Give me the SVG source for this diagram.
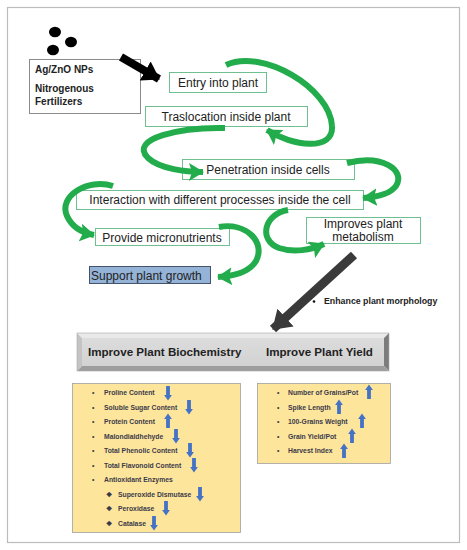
<svg xmlns="http://www.w3.org/2000/svg" width="467" height="550" viewBox="0 0 467 550">
<style>
.frame{fill:#fff;stroke:#bcbcbc;stroke-width:1.2}
.gbox{fill:#fff;stroke:#6fbf90;stroke-width:1}
.t{font-family:"Liberation Sans",Arial,sans-serif;font-size:12px;fill:#222}
.b{font-family:"Liberation Sans",Arial,sans-serif;font-weight:bold;fill:#222}
.li{font-family:"Liberation Sans",Arial,sans-serif;font-weight:bold;font-size:6.8px;fill:#3a3a4a}
.ga{fill:none;stroke:#22ac4c;stroke-width:6;stroke-linecap:butt}
.ybox{fill:#fee59c;stroke:#a0a0a0;stroke-width:0.8}
.blue{fill:#4472c4}
</style>
<defs>
<marker id="gh" markerUnits="userSpaceOnUse" markerWidth="16" markerHeight="18" viewBox="0 0 16 18" refX="14" refY="9" orient="auto">
<path d="M0,0 L15,9 L0,18 L3,9 z" fill="#22ac4c"/>
</marker>
<marker id="kh" markerUnits="userSpaceOnUse" markerWidth="17" markerHeight="22" viewBox="0 0 17 22" refX="16" refY="11" orient="auto">
<path d="M0,0 L17,11 L0,22 z" fill="#000"/>
</marker>
<marker id="dh" markerUnits="userSpaceOnUse" markerWidth="18" markerHeight="24" viewBox="0 0 18 24" refX="17" refY="12" orient="auto">
<path d="M0,0 L18,12 L0,24 z" fill="#3a3a3a"/>
</marker>
<g id="dn"><rect x="-1.9" y="-7" width="3.8" height="9" class="blue"/><path d="M-3.9,2 L3.9,2 L0,7.5 z" class="blue"/></g>
<g id="up"><rect x="-1.9" y="-2" width="3.8" height="9" class="blue"/><path d="M-3.9,-2 L3.9,-2 L0,-7.5 z" class="blue"/></g>
<linearGradient id="face" x1="0" y1="0" x2="0" y2="1"><stop offset="0" stop-color="#dcdcdc"/><stop offset="1" stop-color="#d2d2d2"/></linearGradient>
</defs>

<rect class="frame" x="7.5" y="7.5" width="452" height="535"/>

<g id="particles">
<ellipse cx="55" cy="32" rx="6" ry="5.3" fill="#000"/>
<ellipse cx="71" cy="42" rx="6" ry="5.3" fill="#000"/>
<ellipse cx="53" cy="50" rx="6" ry="5.3" fill="#000"/>
</g>

<g id="source">
<rect x="29.5" y="59.5" width="111" height="54" fill="#fff" stroke="#8a8a8a" stroke-width="1"/>
<text class="b" x="35" y="73" font-size="10">Ag/ZnO NPs</text>
<text class="b" x="35" y="92" font-size="10">Nitrogenous</text>
<text class="b" x="35" y="105" font-size="10">Fertilizers</text>
</g>

<g id="entry">
<rect class="gbox" x="169.5" y="72.5" width="97" height="20"/>
<text class="t" x="218" y="86.5" text-anchor="middle">Entry into plant</text>
</g>
<g id="traslocation">
<rect class="gbox" x="145.5" y="106.5" width="162" height="20"/>
<text class="t" x="226" y="120.5" text-anchor="middle">Traslocation inside plant</text>
</g>
<g id="penetration">
<rect class="gbox" x="182.5" y="159.5" width="172" height="20"/>
<text class="t" x="268" y="173.5" text-anchor="middle">Penetration inside cells</text>
</g>
<g id="interaction">
<rect class="gbox" x="76.5" y="190.5" width="287" height="19"/>
<text class="t" x="220" y="204" text-anchor="middle">Interaction with different processes inside the cell</text>
</g>
<g id="micronutrients">
<rect class="gbox" x="95.5" y="228.5" width="134" height="17"/>
<text class="t" x="162" y="241.5" text-anchor="middle">Provide micronutrients</text>
</g>
<g id="metabolism">
<rect class="gbox" x="306.5" y="217.5" width="114" height="26"/>
<text class="t" x="363" y="227.5" text-anchor="middle" font-size="10.8">Improves plant</text>
<text class="t" x="363" y="240.5" text-anchor="middle" font-size="10.8">metabolism</text>
</g>
<g id="growth">
<rect x="89.5" y="266.5" width="121" height="17" fill="#95b3d7" stroke="#44546a" stroke-width="1"/>
<text class="t" x="91" y="279.5">Support plant growth</text>
</g>

<g id="connectors">
<line x1="121" y1="57" x2="159" y2="79" stroke="#000" stroke-width="8" marker-end="url(#kh)"/>
<path class="ga" d="M226,65 C262,48 330,88 332,126 C334,152 292,146 267,130" marker-end="url(#gh)"/>
<path class="ga" d="M225,128 C182,127 128,138 148,158 C160,169 186,172 203,172" marker-end="url(#gh)"/>
<path class="ga" d="M347,163 C382,154 406,170 396,186 C390,194 379,197 363,198" marker-end="url(#gh)"/>
<path class="ga" d="M113,186 C88,178 58,196 67,216 C72,227 83,233 94,235" marker-end="url(#gh)"/>
<path class="ga" d="M219,227 C246,222 266,242 256,261 C250,271 236,276 218,277" marker-end="url(#gh)"/>
<path class="ga" d="M288,210 C264,214 258,240 279,248 C294,253 311,250 324,244" marker-end="url(#gh)"/>
<line x1="354" y1="255" x2="273" y2="329" stroke="#3a3a3a" stroke-width="9" marker-end="url(#dh)"/>
</g>

<g id="morphology">
<circle cx="314" cy="301.5" r="1.3" fill="#111"/>
<text class="b" x="324" y="304" font-size="8.8">Enhance plant morphology</text>
</g>

<g id="improve">
<polygon points="77,333 389,333 384,338 82,338" fill="#e9e9e9"/>
<polygon points="77,333 82,338 82,366 77,371" fill="#c4c4c4"/>
<polygon points="389,333 389,371 384,366 384,338" fill="#7c7c7c"/>
<polygon points="77,371 389,371 384,366 82,366" fill="#9d9d9d"/>
<rect x="82" y="338" width="302" height="28" fill="url(#face)"/>
<rect x="77" y="333" width="312" height="38" fill="none" stroke="#a8a8a8" stroke-width="0.6"/>
<text class="b" x="88" y="356" font-size="11.6">Improve Plant Biochemistry</text>
<text class="b" x="266" y="356" font-size="11.6">Improve Plant Yield</text>
</g>

<g id="biochemistry">
<rect class="ybox" x="72.5" y="383.5" width="168" height="149"/>
<g class="li">
<text x="92" y="395">•</text><text x="104" y="395">Proline Content</text>
<text x="92" y="409.5">•</text><text x="104" y="409.5">Soluble Sugar Content</text>
<text x="92" y="424">•</text><text x="104" y="424">Protein Content</text>
<text x="92" y="438.5">•</text><text x="104" y="438.5">Malondialdhehyde</text>
<text x="92" y="453">•</text><text x="104" y="453">Total Phenolic Content</text>
<text x="92" y="467.5">•</text><text x="104" y="467.5">Total Flavonoid Content</text>
<text x="92" y="482">•</text><text x="104" y="482">Antioxidant Enzymes</text>
<text x="106" y="496.5">❖</text><text x="118" y="496.5">Superoxide Dismutase</text>
<text x="106" y="511">❖</text><text x="118" y="511">Peroxidase</text>
<text x="106" y="525.5">❖</text><text x="118" y="525.5">Catalase</text>
</g>
<use href="#dn" x="168" y="393"/>
<use href="#dn" x="189" y="407"/>
<use href="#up" x="168" y="421"/>
<use href="#dn" x="176" y="436"/>
<use href="#dn" x="190" y="450"/>
<use href="#dn" x="194" y="465"/>
<use href="#dn" x="200" y="494"/>
<use href="#dn" x="166" y="508"/>
<use href="#dn" x="154" y="523"/>
</g>

<g id="yield">
<rect class="ybox" x="257.5" y="383.5" width="133" height="80"/>
<g class="li">
<text x="277" y="395">•</text><text x="288" y="395">Number of Grains/Pot</text>
<text x="277" y="409.5">•</text><text x="288" y="409.5">Spike Length</text>
<text x="277" y="424">•</text><text x="288" y="424">100-Grains Weight</text>
<text x="277" y="438.5">•</text><text x="288" y="438.5">Grain Yield/Pot</text>
<text x="277" y="453">•</text><text x="288" y="453">Harvest Index</text>
</g>
<use href="#up" x="369" y="392"/>
<use href="#up" x="339" y="407"/>
<use href="#up" x="362" y="421"/>
<use href="#up" x="352" y="436"/>
<use href="#up" x="344" y="451"/>
</g>
</svg>
